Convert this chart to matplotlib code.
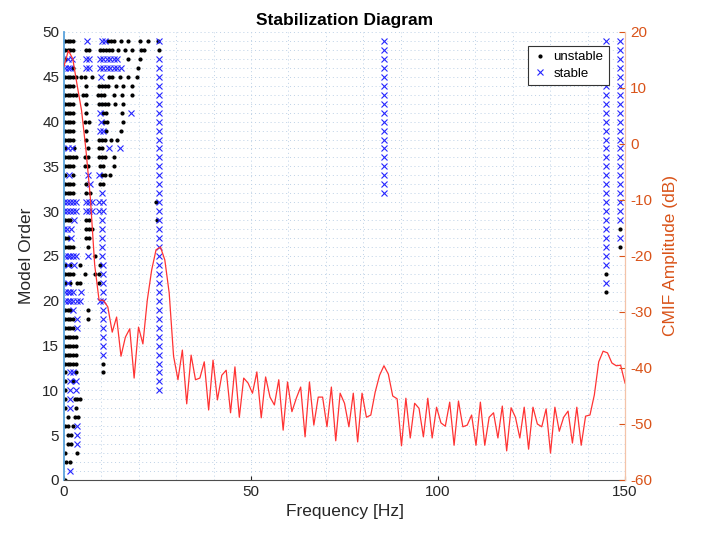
import numpy as np
import matplotlib
matplotlib.use('Agg')
import matplotlib.pyplot as plt

plt.rcParams['font.family'] = ['Liberation Sans', 'DejaVu Sans']
plt.rcParams['axes.unicode_minus'] = False

# CMIF curve (dB), uniform frequency bins from 0 to 150 Hz
cmif_db = [13.9, 16.7, 15.2, 10.5, 6.0, -1.0, -9.5, -21.6, -27.9, -27.9,
           -29.1, -33.6, -30.9, -37.9, -34.5, -33.0, -41.8, -32.7, -35.7, -27.9,
           -22.5, -18.9, -18.4, -20.7, -26.6, -37.9, -42.1, -36.8, -46.4, -37.7,
           -42.1, -41.8, -38.9, -47.5, -38.6, -45.7, -41.3, -40.4, -48.0, -39.8,
           -48.8, -41.8, -42.7, -44.5, -40.7, -48.9, -41.6, -45.2, -46.6, -42.1,
           -51.1, -42.5, -47.8, -45.4, -43.4, -52.3, -42.5, -50.2, -45.2, -45.2,
           -50.5, -43.4, -53.0, -44.5, -46.3, -50.5, -44.5, -53.2, -44.5, -48.8,
           -48.4, -44.3, -41.3, -39.6, -41.1, -45.0, -45.5, -53.9, -45.4, -52.5,
           -46.3, -47.2, -52.3, -45.4, -52.5, -47.0, -49.8, -50.4, -46.1, -53.8,
           -45.9, -50.5, -50.2, -48.4, -53.8, -46.1, -53.8, -48.8, -48.0, -52.5,
           -46.8, -54.8, -47.1, -48.8, -52.5, -47.0, -54.5, -47.0, -50.0, -50.5,
           -47.3, -55.2, -47.0, -51.3, -48.8, -47.7, -53.4, -47.0, -53.8, -48.6,
           -48.4, -44.8, -38.9, -37.0, -37.3, -39.1, -39.6, -39.5, -42.7]
cmif_freq = np.linspace(0, 150, len(cmif_db))

# low-frequency poles per model order (index = order)
unstable_low = [
    [0.2], [], [0.5, 1.6], [0.4, 3.4], [1.0, 1.9], [1.0, 1.9],
    [0.3, 1.2, 2.5], [1.1, 3.0, 3.7], [0.3, 3.3], [0.3, 2.9, 3.6, 4.3],
    [0.3], [0.3, 2.5], [0.3, 3.3, 10.3], [0.3, 1.0, 1.7, 2.5, 3.3, 10.3],
    [0.3, 1.0, 1.7, 2.5, 3.3], [0.3, 1.0, 1.7, 2.5, 3.3], [0.3, 1.0, 1.7, 2.5, 3.3],
    [0.3, 1.0, 1.7, 2.5], [0.3, 1.0, 1.7, 2.5, 6.5], [0.3, 1.0, 1.7, 6.5],
    [], [], [0.3, 1.7, 3.5, 4.3, 9.3], [0.3, 1.0, 1.7, 2.5, 5.6, 8.4, 9.3],
    [0.3, 1.7, 4.3, 9.6], [8.3], [0.3, 1.0, 1.7, 2.5, 6.3], [0.3, 1.0, 6.0, 6.8],
    [5.8, 6.6, 7.4], [0.3, 1.0, 1.7, 6.0, 6.8], [], [],
    [0.3, 1.0, 1.7, 2.5, 6.0, 6.9], [0.3, 1.0, 1.7, 2.5, 6.0, 9.6, 10.4],
    [0.2, 2.5, 10.2, 11.0, 12.4], [0.3, 1.0, 1.7, 2.5, 5.5, 6.5, 9.6, 10.4, 13.4],
    [0.3, 1.0, 1.7, 2.5, 3.3, 5.6, 6.4, 9.4, 10.2, 11.0, 13.4],
    [0.3, 2.8, 6.3, 9.4, 10.2],
    [0.3, 1.0, 1.7, 2.5, 6.0, 9.3, 10.1, 10.9, 12.6, 14.3],
    [0.3, 1.0, 1.7, 2.5, 6.0, 11.3, 15.3],
    [0.3, 1.0, 1.7, 2.5, 5.7, 6.6, 10.6, 11.4, 15.7],
    [0.3, 1.0, 1.7, 2.5, 6.0, 10.5, 11.3, 15.6],
    [0.3, 1.0, 1.7, 2.5, 6.0, 9.3, 10.1, 10.9, 11.7, 13.6, 15.8],
    [0.3, 1.0, 1.7, 2.5, 3.2, 5.0, 5.8, 9.0, 9.8, 10.6, 13.5, 15.6, 18.2],
    [0.3, 1.0, 1.7, 2.5, 6.0, 9.4, 10.2, 11.0, 11.8, 13.9, 15.9, 18.2],
    [0.3, 1.0, 1.7, 2.5, 3.3, 4.6, 5.6, 7.5, 12.0, 12.9, 15.0, 17.2, 19.6],
    [2.5, 19.9], [0.3, 17.2, 20.3],
    [0.3, 1.0, 1.7, 2.5, 6.0, 6.8, 9.5, 10.3, 11.1, 11.9, 12.8, 14.5, 16.3, 18.1, 20.6, 21.4],
    [0.3, 1.0, 1.7, 2.5, 11.7, 12.5, 13.4, 15.2, 17.2, 20.3, 22.4],
]
stable_low = [
    [], [1.5], [], [], [3.4], [3.4], [3.4], [], [1.6], [1.6],
    [1.7, 3.3], [1.6, 3.2], [1.7, 2.5], [], [10.3], [10.3], [10.3],
    [3.4, 10.3], [3.4, 10.3], [2.5, 10.3],
    [0.2, 1.0, 1.7, 2.5, 3.4, 4.3, 9.6, 10.3], [0.2, 1.0, 1.7, 2.5, 4.6, 10.3],
    [1.0, 10.3], [10.3], [1.0, 2.6, 10.4], [0.2, 1.0, 1.7, 2.5, 3.2, 6.5, 10.1],
    [10.1], [2.0, 10.1], [0.1, 0.9, 1.8, 10.1], [2.7, 10.1],
    [0.0, 0.8, 1.6, 2.4, 3.2, 6.0, 6.8, 7.6, 9.4, 10.4],
    [0.0, 0.8, 1.6, 2.4, 3.2, 6.0, 6.8, 7.6, 9.4, 10.4],
    [10.1], [7.0], [1.3, 6.4, 9.4], [], [], [1.2, 2.1, 11.9, 15.0], [],
    [9.5, 10.4], [9.8], [9.7, 18.0], [], [], [], [9.9],
    [0.3, 1.0, 1.7, 6.0, 6.8, 9.6, 10.5, 11.4, 12.3, 13.3, 14.3, 15.3],
    [1.2, 2.1, 6.0, 6.8, 9.6, 10.5, 11.4, 12.3, 13.3, 14.3],
    [], [6.1, 10.1, 11.0],
]

# stable mode columns: frequency and first/last model order
mode_freq = [25.3, 25.3, 85.6, 144.8, 144.8, 148.7, 148.7]
mode_lo = [10, 49, 32, 24, 22, 29, 27]
mode_hi = [47, 49, 49, 49, 22, 49, 27]
# unstable poles along the mode columns
spur_freq = [25.3, 25.1, 24.7, 24.8, 144.8, 144.8, 148.7, 148.7]
spur_order = [48, 49, 31, 29, 23, 21, 28, 26]

uf, uo, sf, so = [], [], [], []
for n, row in enumerate(unstable_low):
    uf += row; uo += [n] * len(row)
for n, row in enumerate(stable_low):
    sf += row; so += [n] * len(row)
for f, lo, hi in zip(mode_freq, mode_lo, mode_hi):
    for n in range(lo, hi + 1):
        sf.append(f); so.append(n)
uf += spur_freq; uo += spur_order

fig = plt.figure(figsize=(7.08, 5.36), dpi=100)
ax1 = fig.add_axes([0.0904, 0.1045, 0.7924, 0.8358])
ax2 = ax1.twinx()

h1, = ax1.plot(uf, uo, '.', color='k', ms=4, label='unstable')
h2, = ax1.plot(sf, so, 'x', color=(0.15, 0.15, 1.0), ms=5, mew=0.8, label='stable')
ax2.plot(cmif_freq, cmif_db, color=(1.0, 0.2, 0.2), lw=0.9)

ax1.set_xlim(0, 150)
ax1.set_ylim(0, 50)
ax2.set_ylim(-60, 20)
ax1.set_xticks([0, 50, 100, 150])
ax1.set_yticks(range(0, 51, 5))
ax2.set_yticks(range(-60, 21, 10))
ax1.set_xticks(range(0, 151, 10), minor=True)
ax1.set_yticks(range(0, 51, 1), minor=True)
ax1.grid(True, which='both', linestyle=(0, (1, 3)), color=(0.74, 0.82, 0.9), lw=0.7)
ax1.set_axisbelow(True)

grey = '#262626'
orange = '#D95319'
ax1.tick_params(axis='both', which='major', labelsize=11, colors=grey, direction='in', length=3)
ax1.tick_params(axis='both', which='minor', length=0)
ax1.tick_params(axis='y', length=0)
ax2.tick_params(axis='y', labelsize=11, colors=orange, direction='in', length=4)
for ax in (ax1, ax2):
    ax.spines['top'].set_visible(False)
ax1.spines['left'].set_color('#5BA3DC')
ax1.spines['left'].set_linewidth(1.3)
ax1.spines['bottom'].set_color('#4d4d4d')
ax2.spines['left'].set_visible(False)
ax2.spines['bottom'].set_visible(False)
ax2.spines['right'].set_color('#F4C3A8')
ax2.spines['right'].set_linewidth(0.9)
ax1.spines['right'].set_visible(False)

ax1.set_xlabel('Frequency [Hz]', fontsize=12.5, color=grey, labelpad=4)
ax1.set_ylabel('Model Order', fontsize=12.5, color=grey, labelpad=6)
ax2.set_ylabel('CMIF Amplitude (dB)', fontsize=12.5, color=orange, labelpad=8)
ax1.set_title('Stabilization Diagram', fontsize=12.5, fontweight='bold', pad=5)

leg = ax2.legend([h1, h2], ['unstable', 'stable'], loc='upper right',
                 bbox_to_anchor=(0.971, 0.969), borderaxespad=0, fontsize=9.5,
                 fancybox=False, framealpha=1, edgecolor='#333333',
                 handlelength=1.0, handletextpad=0.5, borderpad=0.4, labelspacing=0.3)
leg.get_frame().set_linewidth(0.8)
leg.set_zorder(10)

fig.savefig('out.png', dpi=100)
